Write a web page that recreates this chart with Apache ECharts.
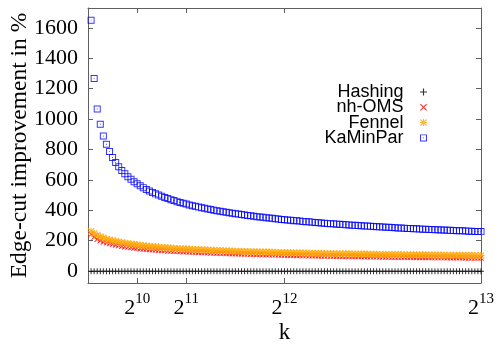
<!DOCTYPE html>
<html>
<head>
<meta charset="utf-8">
<script src="https://cdn.jsdelivr.net/npm/echarts@6/dist/echarts.min.js"></script>
<style>
  html, body { margin: 0; padding: 0; background: #fff; }
  #chart { width: 500px; height: 345px; }
</style>
</head>
<body>
<div id="chart"></div>
<script>
// k values (x axis)
const ks = [
  64, 128, 192, 256, 320, 384, 448, 512, 576, 640, 704, 768, 832, 896, 960, 1024,
  1088, 1152, 1216, 1280, 1344, 1408, 1472, 1536, 1600, 1664, 1728, 1792, 1856, 1920, 1984, 2048,
  2112, 2176, 2240, 2304, 2368, 2432, 2496, 2560, 2624, 2688, 2752, 2816, 2880, 2944, 3008, 3072,
  3136, 3200, 3264, 3328, 3392, 3456, 3520, 3584, 3648, 3712, 3776, 3840, 3904, 3968, 4032, 4096,
  4160, 4224, 4288, 4352, 4416, 4480, 4544, 4608, 4672, 4736, 4800, 4864, 4928, 4992, 5056, 5120,
  5184, 5248, 5312, 5376, 5440, 5504, 5568, 5632, 5696, 5760, 5824, 5888, 5952, 6016, 6080, 6144,
  6208, 6272, 6336, 6400, 6464, 6528, 6592, 6656, 6720, 6784, 6848, 6912, 6976, 7040, 7104, 7168,
  7232, 7296, 7360, 7424, 7488, 7552, 7616, 7680, 7744, 7808, 7872, 7936, 8000, 8064, 8128, 8192
];

const hashing = [
  0, 0, 0, 0, 0, 0, 0, 0, 0, 0, 0, 0, 0, 0, 0, 0,
  0, 0, 0, 0, 0, 0, 0, 0, 0, 0, 0, 0, 0, 0, 0, 0,
  0, 0, 0, 0, 0, 0, 0, 0, 0, 0, 0, 0, 0, 0, 0, 0,
  0, 0, 0, 0, 0, 0, 0, 0, 0, 0, 0, 0, 0, 0, 0, 0,
  0, 0, 0, 0, 0, 0, 0, 0, 0, 0, 0, 0, 0, 0, 0, 0,
  0, 0, 0, 0, 0, 0, 0, 0, 0, 0, 0, 0, 0, 0, 0, 0,
  0, 0, 0, 0, 0, 0, 0, 0, 0, 0, 0, 0, 0, 0, 0, 0,
  0, 0, 0, 0, 0, 0, 0, 0, 0, 0, 0, 0, 0, 0, 0, 0
];

const nhOms = [
  242, 224, 210, 200, 192, 186, 181, 176, 172, 168, 164, 161, 158, 155, 152, 150,
  148, 146, 144, 142, 140, 139, 137, 136, 135, 133, 132, 131, 130, 129, 128, 127,
  126, 125, 124, 123, 122, 122, 121, 120, 119, 118, 118, 117, 116, 116, 115, 114,
  114, 113, 112, 112, 111, 111, 110, 109, 109, 108, 108, 107, 107, 106, 106, 105,
  105, 104, 104, 103, 103, 102, 102, 101, 101, 101, 100, 100, 99, 99, 99, 98,
  98, 98, 97, 97, 97, 96, 96, 96, 95, 95, 95, 94, 94, 94, 93, 93,
  93, 93, 92, 92, 92, 92, 91, 91, 91, 91, 90, 90, 90, 90, 90, 89,
  89, 89, 89, 89, 88, 88, 88, 88, 88, 88, 87, 87, 87, 87, 87, 87
];

const fennel = [
  262, 248, 236, 227, 219, 212, 207, 202, 197, 193, 189, 185, 182, 179, 176, 173,
  171, 168, 166, 164, 162, 160, 158, 156, 155, 153, 152, 150, 149, 148, 147, 146,
  145, 144, 143, 142, 141, 140, 139, 138, 137, 136, 135, 134, 134, 133, 132, 131,
  131, 130, 129, 129, 128, 127, 127, 126, 126, 125, 125, 124, 124, 123, 123, 122,
  122, 121, 121, 120, 120, 119, 119, 118, 118, 118, 117, 117, 116, 116, 116, 115,
  115, 115, 114, 114, 114, 113, 113, 113, 112, 112, 112, 111, 111, 111, 110, 110,
  110, 110, 109, 109, 109, 109, 108, 108, 108, 108, 107, 107, 107, 107, 106, 106,
  106, 106, 106, 105, 105, 105, 105, 105, 104, 104, 104, 104, 104, 103, 103, 103
];

const kaMinPar = [
  1650, 1267, 1066, 966, 888, 834, 786, 747, 714, 686, 662, 640, 621, 604, 588, 574,
  561, 549, 537, 527, 517, 508, 500, 492, 484, 477, 470, 464, 457, 451, 446, 441,
  435, 430, 426, 421, 417, 413, 409, 405, 401, 397, 394, 390, 387, 384, 381, 377,
  375, 372, 369, 366, 364, 361, 358, 356, 354, 351, 349, 347, 344, 342, 340, 338,
  336, 334, 332, 331, 329, 327, 325, 324, 322, 320, 318, 317, 315, 314, 312, 311,
  309, 308, 306, 305, 304, 302, 301, 300, 298, 297, 296, 295, 293, 292, 291, 290,
  289, 288, 287, 285, 284, 283, 282, 281, 280, 279, 278, 277, 276, 275, 274, 273,
  272, 272, 271, 270, 269, 268, 267, 266, 265, 265, 264, 263, 262, 261, 261, 260
];

const seriesNames = ["Hashing", "nh-OMS", "Fennel", "KaMinPar"];
const xTickValues = [1024, 2048, 4096, 8192];
const xTickExps = ["10", "11", "12", "13"];
const yTickValues = [0, 200, 400, 600, 800, 1000, 1200, 1400, 1600];

const serif = "Liberation Serif";
const sans = "Liberation Sans";
const axisColor = "#606060";

// gnuplot-like point shapes
const plusPath = "path://M0,2.5L6,2.5L6,3.5L0,3.5Z M2.5,0L3.5,0L3.5,6L2.5,6Z";
const crossPath = "path://M0.7,0L6,5.3L5.3,6L0,0.7Z M5.3,0L6,0.7L0.7,6L0,5.3Z";
const starPath = "path://M0.7,0L6,5.3L5.3,6L0,0.7Z M5.3,0L6,0.7L0.7,6L0,5.3Z " +
  "M0,2.5L6,2.5L6,3.5L0,3.5Z M2.5,0L3.5,0L3.5,6L2.5,6Z";
const boxPath = "path://M0,0L8,0L8,8L0,8Z M1.1,1.1L1.1,6.9L6.9,6.9L6.9,1.1Z M3.5,3.5L4.5,3.5L4.5,4.5L3.5,4.5Z";

const toPoints = (vals) => ks.map((k, i) => [k, vals[i]]);

const chart = echarts.init(document.getElementById("chart"), null, { renderer: "canvas" });

const lineStyle = { onZero: false, lineStyle: { color: axisColor, width: 1 } };

chart.setOption({
  animation: false,
  grid: { left: 88, right: 19, top: 8, bottom: 62, containLabel: false, outerBoundsMode: "none" },
  legend: {
    orient: "vertical",
    align: "right",
    right: 73,
    top: 83,
    padding: 0,
    itemGap: -2.7,
    itemWidth: 30,
    itemHeight: 7,
    textStyle: { fontFamily: sans, fontSize: 18, color: "#000" },
    data: seriesNames
  },
  xAxis: [
    {
      type: "value",
      min: 0,
      max: 8192,
      name: "k",
      nameLocation: "middle",
      nameGap: 38,
      nameMoveOverlap: false,
      nameTextStyle: { fontFamily: serif, fontSize: 23, color: "#000" },
      axisLine: lineStyle,
      axisTick: { inside: true, length: 5, customValues: xTickValues, lineStyle: { color: axisColor } },
      axisLabel: {
        customValues: xTickValues,
        margin: 10,
        formatter: (v) => "{b|2}{s|" + xTickExps[xTickValues.indexOf(v)] + "}",
        rich: {
          b: { fontFamily: serif, fontSize: 22, lineHeight: 26, verticalAlign: "bottom", color: "#000" },
          s: { fontFamily: serif, fontSize: 15, lineHeight: 15, verticalAlign: "bottom", padding: [0, 0, 12, 0], color: "#000" }
        }
      },
      splitLine: { show: false }
    },
    {
      type: "value",
      min: 0,
      max: 8192,
      position: "top",
      axisLine: lineStyle,
      axisTick: { inside: true, length: 5, customValues: xTickValues, lineStyle: { color: axisColor } },
      axisLabel: { show: false },
      splitLine: { show: false }
    }
  ],
  yAxis: [
    {
      type: "value",
      min: -78,
      max: 1730,
      name: "Edge-cut improvement in %",
      nameLocation: "middle",
      nameGap: 56,
      nameMoveOverlap: false,
      nameTextStyle: { fontFamily: serif, fontSize: 23.5, color: "#000" },
      axisLine: Object.assign({ show: true }, lineStyle),
      axisTick: { show: true, inside: true, length: 5, customValues: yTickValues, lineStyle: { color: axisColor } },
      axisLabel: {
        customValues: yTickValues,
        margin: 10,
        fontFamily: serif,
        fontSize: 22,
        color: "#000",
        formatter: (v) => String(v)
      },
      splitLine: { show: false }
    },
    {
      type: "value",
      min: -78,
      max: 1730,
      position: "right",
      axisLine: Object.assign({ show: true }, lineStyle),
      axisTick: { show: true, inside: true, length: 5, customValues: yTickValues, lineStyle: { color: axisColor } },
      axisLabel: { show: false },
      splitLine: { show: false }
    }
  ],
  series: [
    {
      name: seriesNames[0], type: "scatter", data: toPoints(hashing),
      symbol: plusPath, symbolSize: 6, itemStyle: { color: "#000000" }
    },
    {
      name: seriesNames[1], type: "scatter", data: toPoints(nhOms),
      symbol: crossPath, symbolSize: 6, itemStyle: { color: "#ff0000" }
    },
    {
      name: seriesNames[2], type: "scatter", data: toPoints(fennel),
      symbol: starPath, symbolSize: 7, itemStyle: { color: "#ffa500" }
    },
    {
      name: seriesNames[3], type: "scatter", data: toPoints(kaMinPar),
      symbol: boxPath, symbolSize: 7, itemStyle: { color: "#0000ff" }
    }
  ]
});
</script>
</body>
</html>
